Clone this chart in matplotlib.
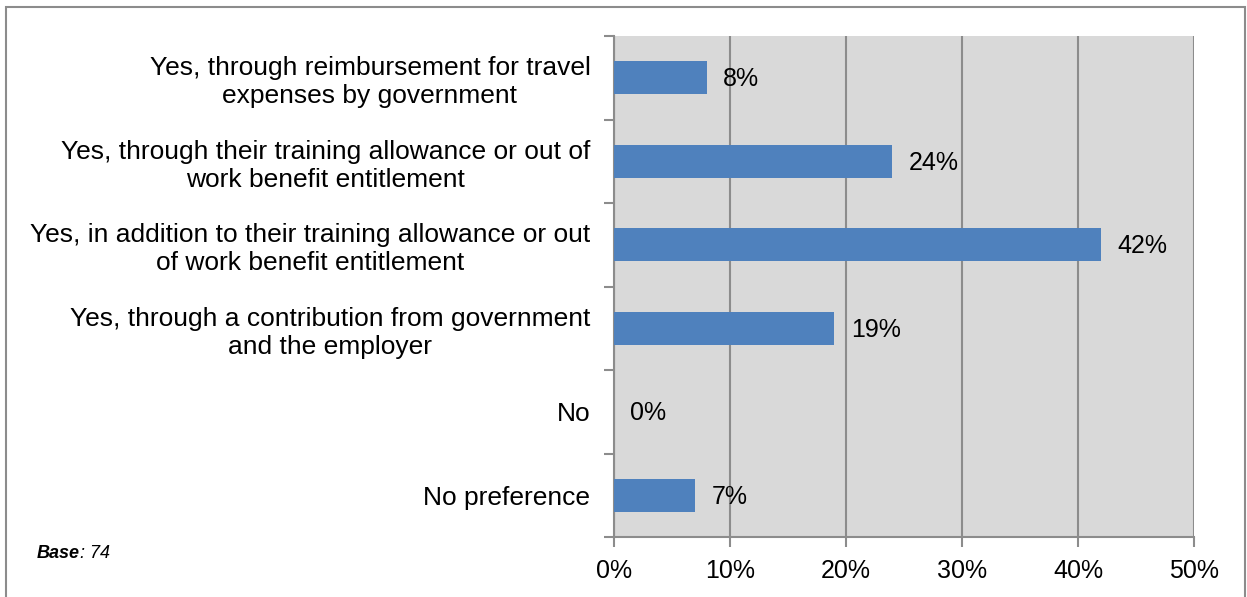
import matplotlib
matplotlib.use("Agg")
import matplotlib.pyplot as plt
from matplotlib.patches import Rectangle

plt.rcParams['font.family'] = ['Liberation Sans', 'DejaVu Sans']

categories = [
    "Yes, through reimbursement for travel\nexpenses by government",
    "Yes, through their training allowance or out of\nwork benefit entitlement",
    "Yes, in addition to their training allowance or out\nof work benefit entitlement",
    "Yes, through a contribution from government\nand the employer",
    "No",
    "No preference",
]
values = [8, 24, 42, 19, 0, 7]
x_ticks = [0, 10, 20, 30, 40, 50]
x_tick_labels = ["0%", "10%", "20%", "30%", "40%", "50%"]

fig = plt.figure(figsize=(12.47, 5.97), dpi=100)
ax = fig.add_axes([614 / 1247, 1 - 537 / 597, 580 / 1247, 501 / 597])

# outer frame around the whole chart
fig.patches.append(Rectangle((6 / 1247, -0.01), 1239 / 1247, 1 - 7 / 597 + 0.01,
                             transform=fig.transFigure, fill=False,
                             edgecolor="#8C8C8C", linewidth=1.5))

ax.set_facecolor("#D9D9D9")
pos = list(range(len(categories)))[::-1]
ax.barh(pos, values, height=0.39, color="#4F81BD", zorder=3)

for p, v in zip(pos, values):
    ax.text(v + 1.4, p - 0.02, f"{v}%", va="center", ha="left", fontsize=18, zorder=4)

ax.set_xlim(0, 50)
ax.set_ylim(-0.5, len(categories) - 0.5)
ax.set_xticks(x_ticks)
ax.set_xticklabels(x_tick_labels, fontsize=18)
ax.xaxis.grid(True, color="#8C8C8C", linewidth=1.5, zorder=1)
ax.set_axisbelow(True)

ax.set_yticks(pos)
ax.set_yticklabels(categories, fontsize=19, linespacing=1.2, multialignment="center")
ax.tick_params(axis="y", length=0, pad=17)
ax.set_yticks([i - 0.5 for i in range(len(categories) + 1)], minor=True)
ax.tick_params(axis="y", which="minor", length=7, color="#8C8C8C", width=1.5)
ax.tick_params(axis="x", length=7, color="#8C8C8C", width=1.5, pad=9)

for side in ["top", "right"]:
    ax.spines[side].set_visible(False)
for side in ["left", "bottom"]:
    ax.spines[side].set_color("#8C8C8C")
    ax.spines[side].set_linewidth(1.5)

fig.text(37 / 1247, 1 - 553 / 597, "Base", fontsize=13, style="italic",
         fontweight="bold", va="center", ha="left")
fig.text(80 / 1247, 1 - 553 / 597, ": 74", fontsize=13, style="italic",
         va="center", ha="left")

fig.savefig("out.png", dpi=100)
